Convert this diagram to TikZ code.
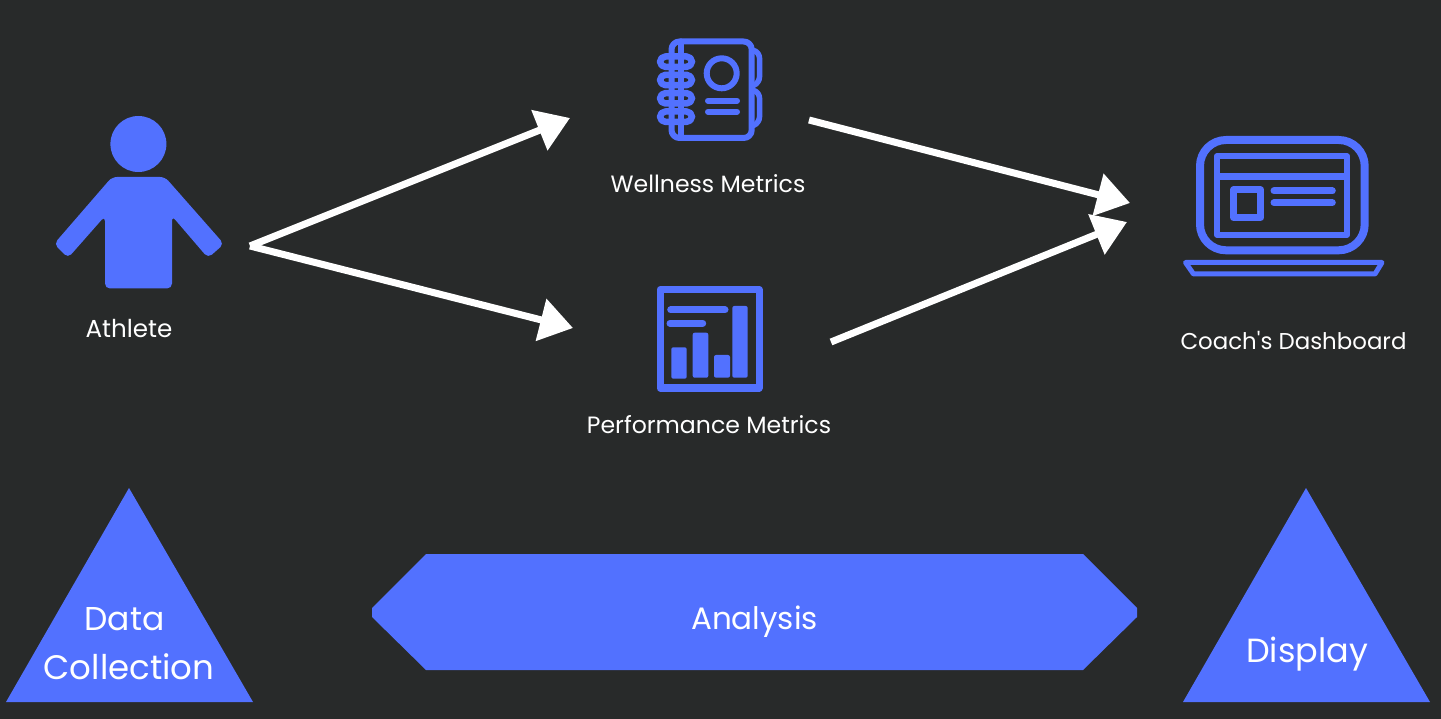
\documentclass[tikz,border=0pt]{standalone}
\usepackage{fontspec}
\newfontfamily\labelfont{Poppins}
\setmainfont{Poppins}
\usetikzlibrary{arrows.meta}
\definecolor{bgc}{HTML}{282A2A}
\definecolor{bluec}{HTML}{5271FF}
\tikzset{
  flow/.style={draw=white,line width=7pt,-{Triangle[length=33pt,width=42pt]},shorten >=0pt},
  lab/.style={text=white,inner sep=0pt,font=\labelfont\fontsize{23.6}{28}\selectfont},
  biglab/.style={text=white,inner sep=0pt,align=center,font=\labelfont\fontsize{34}{48}\selectfont},
  ink/.style={draw=bluec,line join=round,line cap=round},
  solid ink/.style={fill=bluec},
}
\begin{document}
\begin{tikzpicture}[x=1pt,y=-1pt]
\useasboundingbox (0,0) rectangle (1441,719);
\fill[bgc] (0,0) rectangle (1441,719);

% Athlete icon
\fill[solid ink] (138.4,144) circle (28);
\fill[solid ink,rounded corners=5pt] (112,177) -- (165,177) -- (224,244) -- (208,258) -- (172,216) -- (172,288.5) -- (105,288.5) -- (105,216) -- (68,258) -- (54,244) -- cycle;

% Notebook icon
\begin{scope}[ink,line width=6pt]
  \draw[rounded corners=8pt] (671.5,41.5) rectangle (751.7,138);
  \draw (681,41.5) -- (681,138);
  \foreach \yy in {61.7,80,98.3,116.7}{
    \draw[line width=6.5pt,rounded corners=5.5pt] (660,\yy-5.2) rectangle (692,\yy+5.2);
  }
  \draw[line width=5.5pt,rounded corners=6pt] (752,50) -- (759.5,52) -- (759.5,83) -- (752,86);
  \draw[line width=5.5pt,rounded corners=6pt] (752,90) -- (759.5,92) -- (759.5,123) -- (752,126);
  \draw (721.7,73.3) circle (15);
  \draw (708,100.7) -- (737,100.7);
  \draw (708,111.7) -- (737,111.7);
\end{scope}

% Chart icon
\draw[ink,line width=7pt] (660,289.5) rectangle (759,388);
\draw[ink,line width=7pt] (670.7,310) -- (725,310);
\draw[ink,line width=7pt] (670,323.3) -- (702.7,323.3);
\begin{scope}[solid ink,rounded corners=2pt]
  \fill (671.3,347.3) rectangle (686.7,378.7);
  \fill (692.7,332.7) rectangle (708.3,377.7);
  \fill (714,355) rectangle (730,377.7);
  \fill (732.3,306) rectangle (747.7,377.7);
\end{scope}

% Laptop icon
\draw[ink,line width=8pt,rounded corners=26pt] (1200,140) rectangle (1364.7,250.3);
\draw[ink,line width=5.5pt] (1216.8,156) rectangle (1347.2,235);
\draw[ink,line width=7pt,line cap=butt] (1216.8,176.7) -- (1347.2,176.7);
\draw[ink,line width=7pt] (1233.5,190) rectangle (1260.8,217.5);
\draw[ink,line width=7pt] (1274,191) -- (1332.3,191);
\draw[ink,line width=7pt] (1274,202.7) -- (1332.3,202.7);
\draw[ink,line width=5pt] (1185.5,262.5) -- (1382,262.5) -- (1375,274) -- (1193.5,274) -- cycle;

% Phase shapes
\fill[solid ink] (129,488) -- (253,702) -- (6,702) -- cycle;
\fill[solid ink] (1306,488) -- (1430,702) -- (1183,702) -- cycle;
\fill[solid ink] (426,554) -- (1083,554) -- (1137,608) -- (1137,617) -- (1083,670) -- (426,670) -- (372,617) -- (372,608) -- cycle;

% Labels
\node[lab,font=\labelfont\fontsize{24.6}{28}\selectfont] (athlete) at (129,328.5) {Athlete};
\node[lab] (wellness) at (708,184) {Wellness Metrics};
\node[lab] (performance) at (709,425) {Performance Metrics};
\node[lab,font=\labelfont\fontsize{22.9}{28}\selectfont] (dashboard) at (1293.5,340.5) {Coach's Dashboard};
\node[biglab,font=\labelfont\fontsize{33}{40}\selectfont] (datalab) at (124.5,619) {Data};
\node[biglab] (collect) at (129,667) {Collection};
\node[biglab,font=\labelfont\fontsize{31}{40}\selectfont] (analysis) at (754.5,622) {Analysis};
\node[biglab,font=\labelfont\fontsize{33.5}{40}\selectfont] (display) at (1307,654) {Display};

% Connector ends
\coordinate (athleteout) at (250,246);
\coordinate (wellin) at (570,118);
\coordinate (perfin) at (573,328);
\coordinate (wellout) at (809,120);
\coordinate (perfout) at (831,342);
\coordinate (dashinA) at (1130,203);
\coordinate (dashinB) at (1127,222);

\draw[flow] (athleteout) -- (wellin);
\draw[flow] (athleteout) -- (perfin);
\draw[flow] (perfout) -- (dashinB);
\draw[flow] (wellout) -- (dashinA);
\end{tikzpicture}
\end{document}
